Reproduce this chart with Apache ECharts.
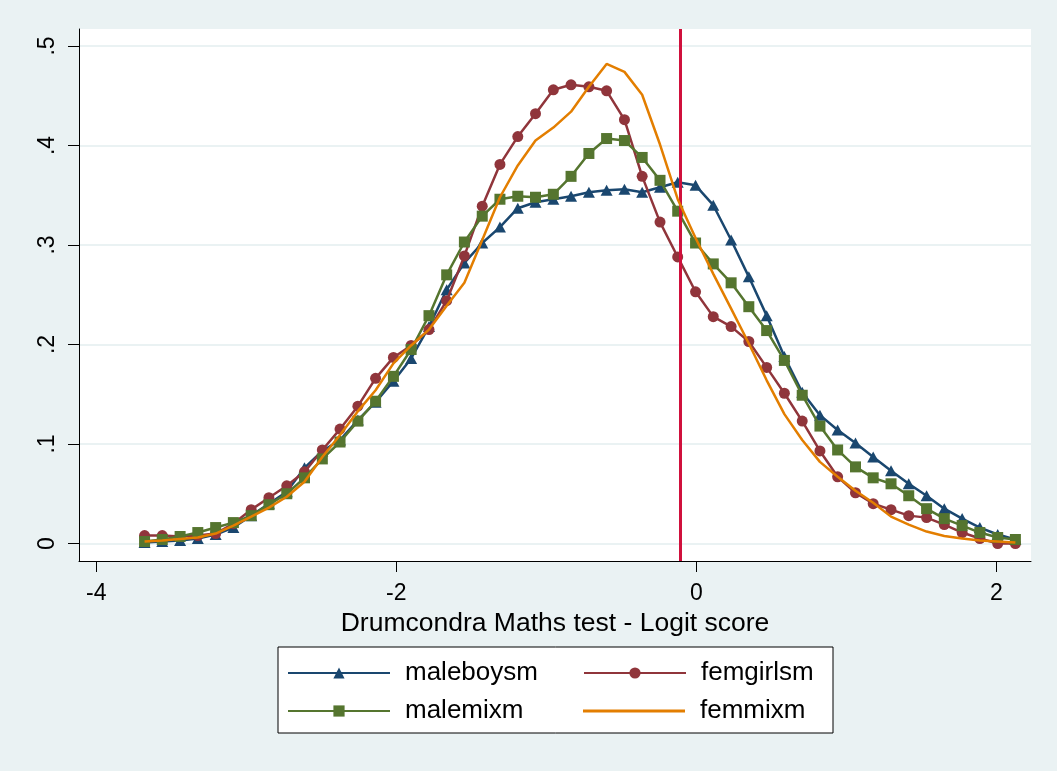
<!DOCTYPE html>
<html>
<head>
<meta charset="utf-8">
<script src="https://cdn.jsdelivr.net/npm/echarts@6/dist/echarts.min.js"></script>
<style>
html,body{margin:0;padding:0;background:#EAF2F3;}
#chart{width:1057px;height:771px;}
</style>
</head>
<body>
<div id="chart"></div>
<script>
// ---- data ----
const xValues = [-3.678,-3.560,-3.441,-3.323,-3.204,-3.086,-2.967,-2.849,-2.730,-2.612,
  -2.493,-2.375,-2.256,-2.138,-2.019,-1.901,-1.782,-1.664,-1.546,-1.427,
  -1.309,-1.190,-1.072,-0.953,-0.835,-0.716,-0.598,-0.479,-0.361,-0.242,
  -0.124,-0.005,0.113,0.232,0.350,0.469,0.587,0.706,0.824,0.942,
  1.061,1.179,1.298,1.416,1.535,1.653,1.772,1.890,2.009,2.127];
const maleboysm = [0.001,0.002,0.003,0.005,0.009,0.016,0.028,0.040,0.052,0.076,
  0.093,0.104,0.124,0.142,0.163,0.186,0.218,0.255,0.282,0.302,
  0.318,0.337,0.343,0.346,0.349,0.353,0.355,0.356,0.353,0.358,
  0.363,0.360,0.340,0.305,0.268,0.229,0.188,0.152,0.129,0.114,
  0.101,0.087,0.073,0.060,0.048,0.035,0.025,0.016,0.009,0.004];
const femgirlsm = [0.008,0.008,0.007,0.008,0.010,0.020,0.034,0.046,0.058,0.072,
  0.094,0.115,0.138,0.166,0.187,0.199,0.215,0.244,0.289,0.339,
  0.381,0.409,0.432,0.456,0.461,0.459,0.455,0.426,0.369,0.323,
  0.288,0.253,0.228,0.218,0.203,0.177,0.151,0.123,0.093,0.067,
  0.051,0.040,0.034,0.028,0.026,0.019,0.011,0.005,0.000,0.000];
const malemixm = [0.002,0.004,0.007,0.011,0.016,0.021,0.028,0.039,0.050,0.066,
  0.085,0.102,0.123,0.143,0.168,0.195,0.229,0.270,0.303,0.329,
  0.346,0.349,0.348,0.351,0.369,0.392,0.407,0.405,0.388,0.365,
  0.334,0.302,0.281,0.262,0.238,0.214,0.184,0.149,0.118,0.094,
  0.077,0.066,0.060,0.048,0.035,0.025,0.018,0.011,0.006,0.004];
const femmixm = [0.002,0.003,0.0045,0.006,0.010,0.018,0.027,0.036,0.047,0.062,
  0.087,0.109,0.133,0.154,0.181,0.199,0.215,0.239,0.262,0.305,
  0.348,0.380,0.405,0.418,0.434,0.459,0.482,0.474,0.451,0.401,
  0.346,0.307,0.271,0.236,0.201,0.164,0.130,0.104,0.082,0.067,
  0.053,0.041,0.027,0.019,0.012,0.0075,0.005,0.003,0.002,0.001];
const seriesNames = ['maleboysm','femgirlsm','malemixm','femmixm'];
const xTicks = [-4,-2,0,2];
const xTickLabels = ['-4','-2','0','2'];
const yTicks = [0,0.1,0.2,0.3,0.4,0.5];
const yTickLabels = ['0','.1','.2','.3','.4','.5'];
const xTitle = 'Drumcondra Maths test - Logit score';
const refLineX = -0.11;

// ---- chart ----
const FONT = "'Liberation Sans', Arial, sans-serif";
const pair = arr => xValues.map((x,i)=>[x, arr[i]]);
const lookup = (ticks, labels) => v => {
  let best = 0;
  ticks.forEach((t,i)=>{ if (Math.abs(t-v) < Math.abs(ticks[best]-v)) best = i; });
  return labels[best];
};

const colors = ['#1A476F','#90353B','#55752F','#E37E00'];
const symbols = ['triangle','circle','rect','none'];
const sizes = [[12,11],11,11,1];
const dataSets = [maleboysm, femgirlsm, malemixm, femmixm];

const series = seriesNames.map((name,i)=>{
  const s = {
    name: name,
    type: 'line',
    data: pair(dataSets[i]),
    symbol: symbols[i],
    symbolSize: sizes[i],
    showSymbol: symbols[i] !== 'none',
    lineStyle: {color: colors[i], width: 2.5},
    itemStyle: {color: colors[i]},
    z: 2 + i,
    silent: true
  };
  if (i === 0) {
    s.markLine = {
      silent: true,
      symbol: ['none','none'],
      label: {show: false},
      lineStyle: {color: '#D0103C', width: 3, type: 'solid'},
      emphasis: {disabled: true},
      data: [{xAxis: refLineX}]
    };
  }
  return s;
});

const legendBase = {
  orient: 'horizontal', padding: 0, itemWidth: 102, itemHeight: 14,
  selectedMode: false,
  textStyle: {fontSize: 26, fontFamily: FONT, color: '#000', padding: [0,0,0,10], lineHeight: 30}
};
const legendPos = [[287,658],[583,658],[287,696],[583,696]];

const legends = seriesNames.map((n,i)=>Object.assign({}, legendBase, {data: [n], left: legendPos[i][0], top: legendPos[i][1]}));
// femmixm has no marker: show it as a plain line
legends[3].data = [{name: 'femmixm', icon: 'rect'}];
legends[3].itemHeight = 3;

const option = {
  animation: false,
  backgroundColor: '#EAF2F3',
  color: colors,
  textStyle: {fontFamily: FONT},
  grid: {left: 79, right: 26, top: 29, bottom: 210, show: true, backgroundColor: '#ffffff', borderWidth: 0, containLabel: false},
  graphic: [{
    type: 'rect', z: 0,
    shape: {x: 278, y: 647, width: 555, height: 86},
    style: {fill: '#ffffff', stroke: '#000000', lineWidth: 1}
  }],
  legend: legends,
  xAxis: {
    type: 'value', min: -4.115, max: 2.231,
    axisLine: {show: true, onZero: false, lineStyle: {color: '#000', width: 1}},
    axisTick: {show: true, length: 11, customValues: xTicks, lineStyle: {color: '#000'}},
    axisLabel: {customValues: xTicks, formatter: lookup(xTicks, xTickLabels), fontSize: 23, color: '#000', margin: 21, fontFamily: FONT},
    splitLine: {show: false},
    name: xTitle, nameLocation: 'middle', nameGap: 42,
    nameTextStyle: {fontSize: 26.5, color: '#000', fontFamily: FONT}
  },
  yAxis: {
    type: 'value', min: -0.0176, max: 0.5171,
    axisLine: {show: true, onZero: false, lineStyle: {color: '#000', width: 1}},
    axisTick: {show: true, length: 11, customValues: yTicks, lineStyle: {color: '#000'}},
    axisLabel: {customValues: yTicks, formatter: lookup(yTicks, yTickLabels), rotate: 90, fontSize: 23, color: '#000', margin: 20, fontFamily: FONT},
    splitLine: {show: true, lineStyle: {color: '#EAF2F3', width: 2}}
  },
  series: series
};

const chart = echarts.init(document.getElementById('chart'), null, {renderer: 'canvas'});
chart.setOption(option);
</script>
</body>
</html>
